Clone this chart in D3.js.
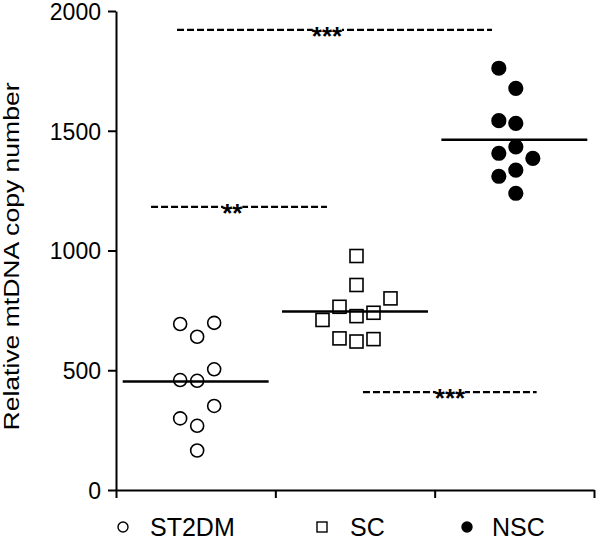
<!DOCTYPE html>
<html>
<head>
<meta charset="utf-8">
<script src="https://cdn.jsdelivr.net/npm/d3@7"></script>
<style>
    body { margin: 0; background: #fff; }
    svg { display: block; font-family: "Liberation Sans", Arial, sans-serif; }
</style>
</head>
<body>
<svg id="chart" width="597" height="540"></svg>
<script>
// groups on the x axis
const groups = ["ST2DM", "SC", "NSC"];

// relative mtDNA copy number per subject
const st2dmValues = [640, 693, 698, 456, 459, 504, 268, 299, 351, 165];
const scValues = [977, 856, 726, 620, 765, 740, 633, 630, 710, 800];
const nscValues = [1677, 1761, 1531, 1542, 1433, 1336, 1239, 1406, 1385, 1310];

const yTicks = [0, 500, 1000, 1500, 2000];

// significance brackets: span on the group axis, star label, height in data units
const brackets = [
    { from: 0.383, to: 2.36, at: 1.324, value: 1921, label: "***" },
    { from: 0.22, to: 1.324, at: 0.73, value: 1182, label: "**" },
    { from: 1.55, to: 2.64, at: 2.096, value: 409, label: "***" }
];

const series = [st2dmValues, scValues, nscValues];
const symbols = ["openCircle", "openSquare", "filledCircle"];

const svg = d3.select("#chart");

const margins = { left: 116, right: 3, top: 11, bottom: 50 };
const width = 597, height = 540;

const y = d3.scaleLinear().domain([0, 2000]).range([height - margins.bottom, margins.top]);
const x = d3.scaleBand().domain(groups).range([margins.left, width - margins.right]).padding(0);
// continuous version of the group axis, used for edges and brackets
const xEdge = d3.scaleLinear().domain([0, groups.length]).range(x.range());

// y axis
const yAxisG = svg.append("g")
    .attr("class", "y-axis")
    .attr("transform", `translate(${margins.left},0)`)
    .call(
        d3.axisLeft(y)
            .tickValues(yTicks)
            .tickSize(8)
            .tickSizeOuter(0)
            .tickPadding(7)
            .tickFormat(d3.format("d"))
    );
yAxisG.select(".domain").attr("stroke-width", 2);
yAxisG.selectAll(".tick line").attr("stroke-width", 2);
yAxisG.selectAll(".tick text")
    .attr("font-size", 23)
    .attr("dy", "0.36em")
    .attr("fill", "#000")
    .attr("font-family", "Liberation Sans, Arial, sans-serif");

// x axis, ticks at group edges, no labels
const xAxisG = svg.append("g")
    .attr("class", "x-axis")
    .attr("transform", `translate(0,${y(0)})`)
    .call(d3.axisBottom(xEdge).tickValues(d3.range(groups.length + 1)).tickSize(8).tickSizeOuter(0).tickFormat(""));
xAxisG.select(".domain").attr("stroke-width", 2);
xAxisG.selectAll(".tick line").attr("stroke-width", 2);

// y axis title
svg.append("text")
    .attr("transform", `translate(19,${(y(0) + y(2000)) / 2 + 6}) rotate(-90)`)
    .attr("text-anchor", "middle")
    .attr("font-size", 22)
    .attr("textLength", 348)
    .attr("lengthAdjust", "spacingAndGlyphs")
    .attr("fill", "#000")
    .text("Relative mtDNA copy number");

// greedy dodge: each point takes the nearest free column around the group centre
const step = 17;
const minGap = 22;
const slotOrder = [0, -1, 1, -2, 2, -3, 3];

const dodge = (values) => {
    const placed = [];
    values.forEach((v) => {
        const py = y(v);
        const slot = slotOrder.find((s) => !placed.some((p) => p.slot == s && Math.abs(p.py - py) < minGap));
        placed.push({ value: v, py, slot });
    });
    return placed;
};

const r = 6.5;

series.forEach((values, i) => {
    const group = groups[i];
    const cx = x(group) + x.bandwidth() / 2 + 1.5;
    const points = dodge(values);
    const g = svg.append("g").attr("class", "points " + group);

    if (symbols[i] == "openSquare") {
        g.selectAll("rect")
            .data(points)
            .enter()
            .append("rect")
            .attr("x", (d) => cx + d.slot * step - r)
            .attr("y", (d) => d.py - r)
            .attr("width", r * 2)
            .attr("height", r * 2)
            .attr("fill", "#fff")
            .attr("stroke", "#000")
            .attr("stroke-width", 1.6);
    } else {
        g.selectAll("circle")
            .data(points)
            .enter()
            .append("circle")
            .attr("cx", (d) => cx + d.slot * step)
            .attr("cy", (d) => d.py)
            .attr("r", symbols[i] == "filledCircle" ? r + 0.3 : r)
            .attr("fill", symbols[i] == "filledCircle" ? "#000" : "#fff")
            .attr("stroke", "#000")
            .attr("stroke-width", 1.6);
    }

    // mean line
    const mean = d3.mean(values);
    const half = x.bandwidth() * 0.458;
    svg.append("line")
        .attr("class", "mean")
        .attr("x1", x(group) + x.bandwidth() / 2 - half)
        .attr("x2", x(group) + x.bandwidth() / 2 + half)
        .attr("y1", y(mean))
        .attr("y2", y(mean))
        .attr("stroke", "#000")
        .attr("stroke-width", 2.5);
});

// significance lines
brackets.forEach((b) => {
    const by = y(b.value);
    const bg = svg.append("g").attr("class", "bracket");
    bg.append("line")
        .attr("x1", xEdge(b.from))
        .attr("x2", xEdge(b.to))
        .attr("y1", by)
        .attr("y2", by)
        .attr("stroke", "#000")
        .attr("stroke-width", 2.2)
        .attr("stroke-dasharray", "7,3");

    const mask = bg.append("rect").attr("fill", "#fff");
    const t = bg.append("text")
        .attr("x", xEdge(b.at))
        .attr("y", by + 15)
        .attr("text-anchor", "middle")
        .attr("font-size", 26)
        .attr("font-weight", "bold")
        .attr("fill", "#000")
        .text(b.label);
    const bb = t.node().getBBox();
    mask.attr("x", bb.x + 1)
        .attr("y", by - 3)
        .attr("width", bb.width - 2)
        .attr("height", 6);
});

// legend
const legendX = [123, 322, 467];
const legendY = 527;
groups.forEach((group, i) => {
    const lg = svg.append("g").attr("class", "legend-item");
    if (symbols[i] == "openSquare") {
        lg.append("rect")
            .attr("x", legendX[i] - 5)
            .attr("y", legendY - 5)
            .attr("width", 10)
            .attr("height", 10)
            .attr("fill", "#fff")
            .attr("stroke", "#000")
            .attr("stroke-width", 1.4);
    } else {
        lg.append("circle")
            .attr("cx", legendX[i])
            .attr("cy", legendY)
            .attr("r", 5)
            .attr("fill", symbols[i] == "filledCircle" ? "#000" : "#fff")
            .attr("stroke", "#000")
            .attr("stroke-width", 1.4);
    }
    lg.append("text")
        .attr("x", legendX[i] + (i == 0 ? 27 : i == 1 ? 28 : 25))
        .attr("y", legendY + 9)
        .attr("font-size", 25)
        .attr("fill", "#000")
        .text(group);
});
</script>
</body>
</html>
